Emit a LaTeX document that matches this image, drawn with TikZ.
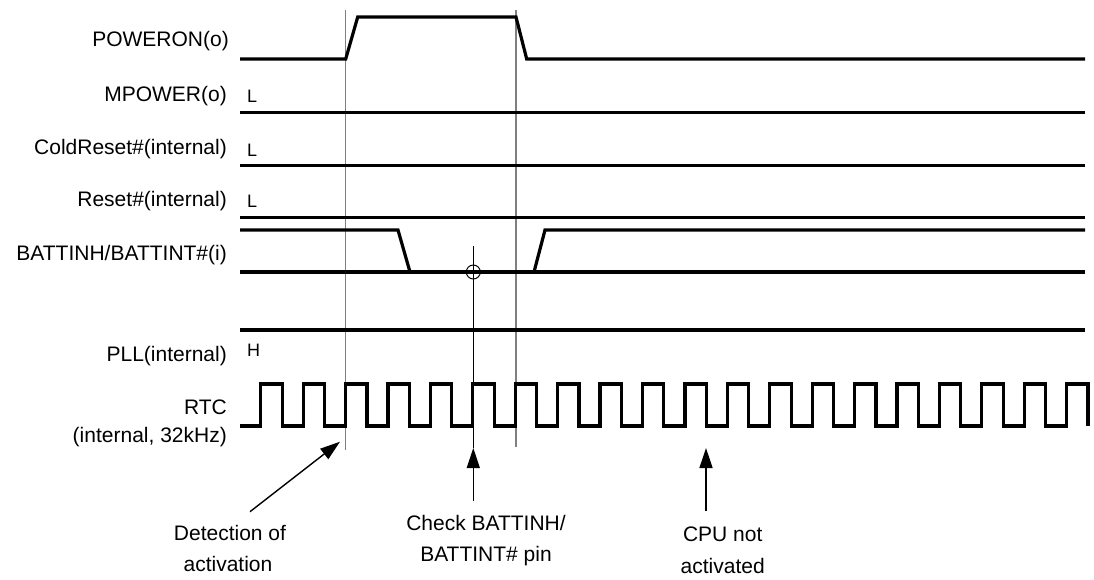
\documentclass[tikz,border=0pt]{standalone}
\usepackage{fontspec}
\setmainfont{Liberation Sans}
\usetikzlibrary{arrows.meta}
\tikzset{
  wave/.style={line width=3.2pt, line join=miter},
  guide/.style={draw=black!50, line width=1.1pt},
  thin/.style={draw=black, line width=1pt},
  arr/.style={line width=1.4pt, -{Triangle[length=20pt,width=13pt]}},
  sig/.style={anchor=base east, font=\fontsize{21}{25}\selectfont, inner sep=0pt},
  lvl/.style={anchor=base west, font=\fontsize{18}{22}\selectfont, inner sep=0pt},
  note/.style={anchor=base, font=\fontsize{21}{25}\selectfont, inner sep=0pt},
}
\begin{document}
\begin{tikzpicture}[x=1pt,y=-1pt]
\useasboundingbox (0,0) rectangle (1094,579);

% signal names
\node[sig] (nPower) at (229,46.5) {POWERON(o)};
\node[sig] (nMpower) at (227,101) {MPOWER(o)};
\node[sig] (nCold) at (227,154) {ColdReset\#(internal)};
\node[sig] (nReset) at (227,206.5) {Reset\#(internal)};
\node[sig] (nBatt) at (227,260.5) {BATTINH/BATTINT\#(i)};
\node[sig] (nPll) at (227,361.5) {PLL(internal)};
\node[sig] (nRtc) at (227,414) {RTC};
\node[sig] (nRtcB) at (227,442) {(internal, 32kHz)};

% level marks
\node[lvl] (lM) at (247,102.7) {L};
\node[lvl] (lC) at (247,156.7) {L};
\node[lvl] (lR) at (247,207.7) {L};
\node[lvl] (lP) at (247,356.7) {H};

% guide lines
\draw[guide] (345.7,10) -- (345.7,450);
\draw[guide] (516,10) -- (516,447);

% POWERON
\draw[wave] (240,59) -- (345.7,59) -- (357.7,17) -- (516,17) -- (526.7,59) -- (1085,59);
% MPOWER, ColdReset, Reset
\draw[wave] (240,112.7) -- (1085,112.7);
\draw[wave] (240,165.7) -- (1085,165.7);
\draw[wave] (240,217.7) -- (1085,217.7);
% BATTINH
\draw[wave] (240,272) -- (1085,272);
\draw[wave] (240,230) -- (398,230) -- (410,272) -- (534,272) -- (545,230) -- (1085,230);
% PLL
\draw[wave] (240,330) -- (1085,330);
% RTC clock
\draw[wave] (240,426)
  \foreach \i in {0,...,19} {
    -- ({260.7+\i*42.42},426) -- ({260.7+\i*42.42},384)
    -- ({282.1+\i*42.42},384) -- ({282.1+\i*42.42},426)
  };

% check marker
\coordinate (chkTop) at (473.3,246);
\coordinate (chkTip) at (473.3,448);
\node[draw, circle, line width=1pt, minimum size=14pt, inner sep=0pt] (chkCirc) at (473.3,272) {};
\draw[thin] (chkTop) -- (chkTip);

% annotation texts
\node[note] (tDet1) at (230,540) {Detection of};
\node[note] (tDet2) at (228,571.7) {activation};
\node[note] (tChk1) at (486,530) {Check BATTINH/};
\node[note] (tChk2) at (486,561) {BATTINT\# pin};
\node[note] (tCpu1) at (722.7,541.5) {CPU not};
\node[note] (tCpu2) at (722.7,573) {activated};

% arrows
\coordinate (detTail) at (250,511.7);
\coordinate (detTip) at (340,441.7);
\coordinate (chkTail) at (473.3,501);
\coordinate (cpuTail) at (706,511);
\coordinate (cpuTip) at (706,448);
\draw[arr] (detTail) -- (detTip);
\draw[arr] (chkTail) -- (chkTip);
\draw[arr] (cpuTail) -- (cpuTip);
\end{tikzpicture}
\end{document}
